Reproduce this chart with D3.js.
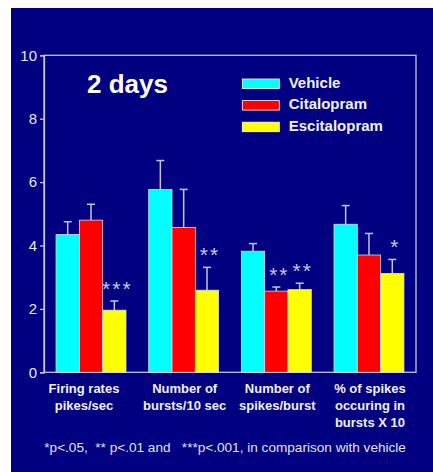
<!DOCTYPE html>
<html>
<head>
<meta charset="utf-8">
<script src="https://cdn.jsdelivr.net/npm/d3@7"></script>
<style>
  body { margin: 0; background: #fff; }
  text { font-family: "Liberation Sans", Arial, sans-serif; }
</style>
</head>
<body>
<div id="chart"></div>
<script>
// data
const categories = ["Firing rates|pikes/sec", "Number of|bursts/10 sec", "Number of|spikes/burst", "% of spikes|occuring in|bursts X 10"];
const series = ["Vehicle", "Citalopram", "Escitalopram"];
const colors = ["#00ffff", "#ff0000", "#ffff00"];
const vehicle = [4.35, 5.77, 3.82, 4.67];
const vehicleErr = [0.4, 0.91, 0.24, 0.59];
const citalopram = [4.8, 4.57, 2.56, 3.70];
const citalopramErr = [0.5, 1.2, 0.13, 0.68];
const escitalopram = [1.96, 2.59, 2.61, 3.12];
const escitalopramErr = [0.29, 0.72, 0.2, 0.44];
const stars = [["", "", "***"], ["", "", "**"], ["", "**", "**"], ["", "", "*"]];
const yTicks = [0, 2, 4, 6, 8, 10];

const W = 433, H = 472;
const mLeft = 44, mRight = 416, mTop = 55.3, mBottom = 372.3;

const svg = d3.select("#chart").append("svg")
  .attr("width", W).attr("height", H);

// navy panel
svg.append("rect").attr("x", 11).attr("y", 8).attr("width", W - 11).attr("height", H - 8)
  .attr("fill", "#000080");

const x = d3.scaleBand().domain(d3.range(categories.length)).range([mLeft, mRight])
  .paddingInner(0.245).paddingOuter(0.13);
const xs = d3.scaleBand().domain(d3.range(series.length)).range([0, x.bandwidth()]);
const y = d3.scaleLinear().domain([0, 10]).range([mBottom, mTop]);

const lineCol = "#c4c4dc";

// frame
svg.append("rect").attr("x", mLeft).attr("y", mTop).attr("width", mRight - mLeft).attr("height", mBottom - mTop)
  .attr("fill", "none").attr("stroke", lineCol).attr("stroke-width", 1.3);

// y axis
const yAxis = svg.append("g").attr("transform", `translate(${mLeft},0)`)
  .call(d3.axisLeft(y).tickValues(yTicks).tickSize(4).tickPadding(3));
yAxis.select(".domain").attr("stroke", lineCol).attr("stroke-width", 1.3);
yAxis.selectAll(".tick line").attr("stroke", lineCol).attr("stroke-width", 1.3);
yAxis.selectAll(".tick text").attr("fill", "#e6e6f2").attr("font-size", 15)
  .style("font-family", "'Liberation Sans', Arial, sans-serif");

const rows = [];
const vals = [vehicle, citalopram, escitalopram];
const errs = [vehicleErr, citalopramErr, escitalopramErr];
categories.forEach((c, i) => {
  series.forEach((s, j) => {
    rows.push({ cat: i, ser: j, v: vals[j][i], e: errs[j][i], star: stars[i][j] });
  });
});

const cx = d => x(d.cat) + xs(d.ser) + xs.bandwidth() / 2;

// error bars (behind)
const eb = svg.append("g").selectAll("g").data(rows).join("g");
eb.append("line")
  .attr("x1", cx).attr("x2", cx)
  .attr("y1", d => y(d.v)).attr("y2", d => y(d.v + d.e))
  .attr("stroke", lineCol).attr("stroke-width", 1.5);
eb.append("line")
  .attr("x1", d => cx(d) - 4).attr("x2", d => cx(d) + 4)
  .attr("y1", d => y(d.v + d.e)).attr("y2", d => y(d.v + d.e))
  .attr("stroke", lineCol).attr("stroke-width", 1.5);

// bars
svg.append("g").selectAll("rect").data(rows).join("rect")
  .attr("x", d => x(d.cat) + xs(d.ser))
  .attr("y", d => y(d.v))
  .attr("width", xs.bandwidth())
  .attr("height", d => y(0) - y(d.v))
  .attr("fill", d => colors[d.ser])
  .attr("stroke", "#d8d8ee").attr("stroke-width", 0.8);

// significance stars
svg.append("g").selectAll("text").data(rows.filter(d => d.star)).join("text")
  .attr("x", d => cx(d) + 3)
  .attr("y", d => y(d.v + d.e) - 5)
  .attr("text-anchor", "middle")
  .attr("fill", "#c8c8e6").attr("font-size", 21).attr("letter-spacing", 2)
  .text(d => d.star);

// category labels
const cl = svg.append("g").selectAll("text").data(categories).join("text")
  .attr("x", (d, i) => x(i) + x.bandwidth() / 2 + (i === 0 ? -7 : 1))
  .attr("y", 393.3)
  .attr("text-anchor", "middle")
  .attr("fill", "#f0f0f8").attr("font-size", 13).attr("font-weight", "bold");
cl.selectAll("tspan").data(d => d.split("|")).join("tspan")
  .attr("x", function () { return d3.select(this.parentNode).attr("x"); })
  .attr("dy", (d, k) => k === 0 ? 0 : 16.6)
  .text(d => d);

// title
svg.append("text").attr("x", 87).attr("y", 93.3)
  .attr("fill", "#ffffff").attr("font-size", 26).attr("font-weight", "bold")
  .text("2 days");

// legend
const lg = svg.append("g").selectAll("g").data(series).join("g")
  .attr("transform", (d, i) => `translate(242.3,${79 + i * 21.6})`);
lg.append("rect").attr("width", 37).attr("height", 9.5)
  .attr("fill", (d, i) => colors[i]).attr("stroke", "#ffffff").attr("stroke-width", 0.8);
lg.append("text").attr("x", 46.4).attr("y", 8.5)
  .attr("fill", "#f0f0f8").attr("font-size", 15).attr("font-weight", "bold")
  .text(d => d);

// footnote
svg.append("text").attr("x", 44.3).attr("y", 451.7)
  .attr("fill", "#e0e0ee").attr("font-size", 13.6)
  .style("white-space", "pre")
  .text("*p<.05,  ** p<.01 and   ***p<.001, in comparison with vehicle");
</script>
</body>
</html>
